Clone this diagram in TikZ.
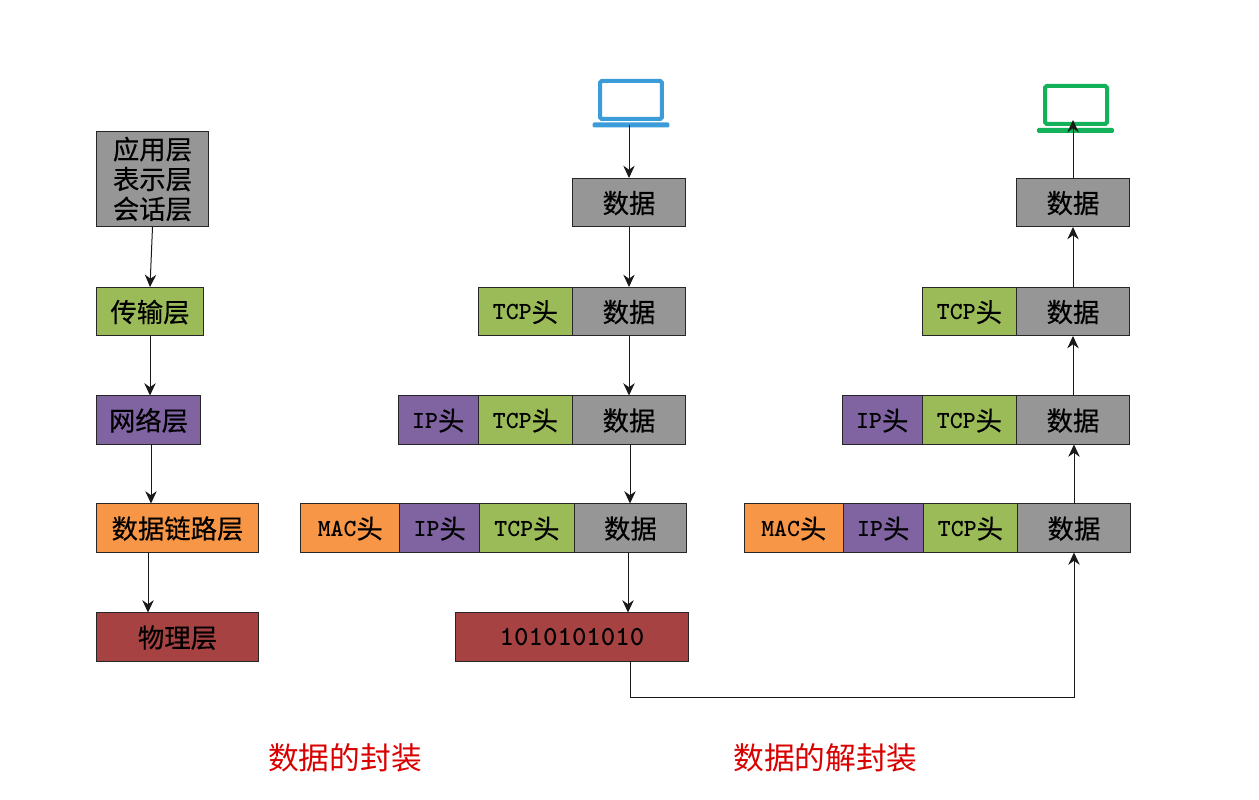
\documentclass[tikz,border=0pt]{standalone}
\usepackage{fontspec}
\setmainfont{Liberation Serif}
\newfontfamily\cjk{Noto Sans CJK SC}
\newfontfamily\cjkheavy[FakeBold=0.4]{Noto Sans CJK SC}
\usetikzlibrary{arrows.meta, positioning}

\definecolor{datagray}{HTML}{969696}
\definecolor{tcpgreen}{HTML}{9BBB59}
\definecolor{ippurple}{HTML}{8064A2}
\definecolor{macorange}{HTML}{F79646}
\definecolor{phyred}{HTML}{A64342}
\definecolor{pcblue}{HTML}{3C9BD9}
\definecolor{pcgreen}{HTML}{12B15A}

\newcommand{\headlabel}[1]{\raisebox{1.4pt}{\fontsize{14}{16}\selectfont\ttfamily\bfseries #1}头}

\begin{document}
\begin{tikzpicture}[
  x=0.02cm, y=-0.02cm,
  % Node styles
  box/.style={
    rectangle, draw=black!85, line width=0.02cm,
    inner sep=0pt, outer sep=0pt, text=black,
    minimum height=0.98cm, text height=13pt, text depth=1pt,
    font=\fontsize{15}{17.5}\selectfont\cjkheavy, align=center
  },
  datanode/.style={box, fill=datagray, minimum width=2.25cm},
  tcpnode/.style={box, fill=tcpgreen, minimum width=1.89cm},
  ipnode/.style={box, fill=ippurple, minimum width=1.6cm},
  macnode/.style={box, fill=macorange, minimum width=1.98cm},
  bitnode/.style={box, fill=phyred, minimum width=4.68cm},
  % Laptop styles
  screen/.style={
    rectangle, rounded corners=1pt, line width=0.08cm, fill=white,
    inner sep=0pt, outer sep=0pt, minimum width=1.24cm, minimum height=0.76cm
  },
  base/.style={
    rectangle, rounded corners=0.8pt, inner sep=0pt, outer sep=0pt,
    minimum width=1.54cm, minimum height=0.1cm
  },
  caption/.style={text=red!85!black, font=\fontsize{17.5}{20}\selectfont\cjk},
  % Arrow style
  arr/.style={-{Stealth[length=7pt, width=6.5pt]}, draw=black!90, line width=0.02cm}
]
\useasboundingbox (0,0) rectangle (1259,800);

%% Left column: layers
\node[box, fill=datagray, minimum width=2.26cm, minimum height=1.92cm, text height=, text depth=, font=\fontsize{15}{15}\selectfont\cjkheavy] (app) at (152.5,179) {应用层\\[0.07cm]表示层\\[0.07cm]会话层};
\node[box, fill=tcpgreen, minimum width=2.16cm]  (transport) at (150,311.5) {传输层};
\node[box, fill=ippurple, minimum width=2.1cm]   (network)   at (148.5,420) {网络层};
\node[box, fill=macorange, minimum width=3.26cm] (link)      at (177.5,528) {数据链路层};
\node[box, fill=phyred, minimum width=3.26cm]    (physical)  at (177.5,637) {物理层};

%% Sender: laptop
\node[screen, draw=pcblue]  (txscreen) at (631,100) {};
\node[base, fill=pcblue]    (txbase)   at (631,125) {};

%% Sender: data column
\node[datanode] (txdataA) at (629,202.5) {数据};
\node[datanode] (txdataB) at (629,311.5) {数据};
\node[datanode] (txdataC) at (629,420)   {数据};
\node[datanode] (txdataD) at (630.5,528) {数据};

%% Sender: headers
\node[tcpnode, left=0pt of txdataB] (txtcpB) {\headlabel{TCP}};
\node[tcpnode, left=0pt of txdataC] (txtcpC) {\headlabel{TCP}};
\node[ipnode,  left=0pt of txtcpC]  (txipC)  {\headlabel{IP}};
\node[tcpnode, left=0pt of txdataD] (txtcpD) {\headlabel{TCP}};
\node[ipnode,  left=0pt of txtcpD]  (txipD)  {\headlabel{IP}};
\node[macnode, left=0pt of txipD]   (txmacD) {\headlabel{MAC}};

%% Sender: bit stream
\node[bitnode] (bits) at (572,637) {\raisebox{1pt}{\fontsize{15.7}{17}\selectfont\ttfamily\bfseries 1010101010}};

%% Receiver: laptop
\node[screen, draw=pcgreen] (rxscreen) at (1076,105) {};
\node[base, fill=pcgreen]   (rxbase)   at (1075.5,130.5) {};
\coordinate (rxtip) at (1073,120);

%% Receiver: data column
\node[datanode] (rxdataA) at (1073,202.5) {数据};
\node[datanode] (rxdataB) at (1073,311.5) {数据};
\node[datanode] (rxdataC) at (1073,420)   {数据};
\node[datanode] (rxdataD) at (1074,528)   {数据};

%% Receiver: headers
\node[tcpnode, left=0pt of rxdataB] (rxtcpB) {\headlabel{TCP}};
\node[tcpnode, left=0pt of rxdataC] (rxtcpC) {\headlabel{TCP}};
\node[ipnode,  left=0pt of rxtcpC]  (rxipC)  {\headlabel{IP}};
\node[tcpnode, left=0pt of rxdataD] (rxtcpD) {\headlabel{TCP}};
\node[ipnode,  left=0pt of rxtcpD]  (rxipD)  {\headlabel{IP}};
\node[macnode, left=0pt of rxipD]   (rxmacD) {\headlabel{MAC}};

%% Captions
\node[caption] (capenc) at (345,758) {数据的封装};
\node[caption] (capdec) at (825.5,758) {数据的解封装};

%% Arrows: left column
\draw[arr] (app.south)                 -- (transport.north);
\draw[arr] (transport.south)           -- (transport.south |- network.north);
\draw[arr] ([xshift=0.05cm]network.south) -- ([xshift=0.05cm]network.south |- link.north);
\draw[arr] ([xshift=-0.59cm]link.south) -- ([xshift=-0.59cm]physical.north);

%% Arrows: sender
\draw[arr] (txbase.center -| txdataA.north) -- (txdataA.north);
\draw[arr] (txdataA) -- (txdataB);
\draw[arr] (txdataB) -- (txdataC);
\draw[arr] ([xshift=0.02cm]txdataC.south) -- ([xshift=0.02cm]txdataC.south |- txdataD.north);
\draw[arr] ([xshift=-0.05cm]txdataD.south) -- ([xshift=-0.05cm]txdataD.south |- bits.north);

%% Arrow: sender -> receiver
\draw[arr] ([xshift=0.02cm]bits.south -| txdataB.south) -- ++(0,36) -| (rxdataD.south);

%% Arrows: receiver
\draw[arr] (rxdataD.north) -- (rxdataD.north |- rxdataC.south);
\draw[arr] (rxdataC) -- (rxdataB);
\draw[arr] (rxdataB) -- (rxdataA);
\draw[arr] (rxdataA.north) -- (rxtip);

\end{tikzpicture}
\end{document}
